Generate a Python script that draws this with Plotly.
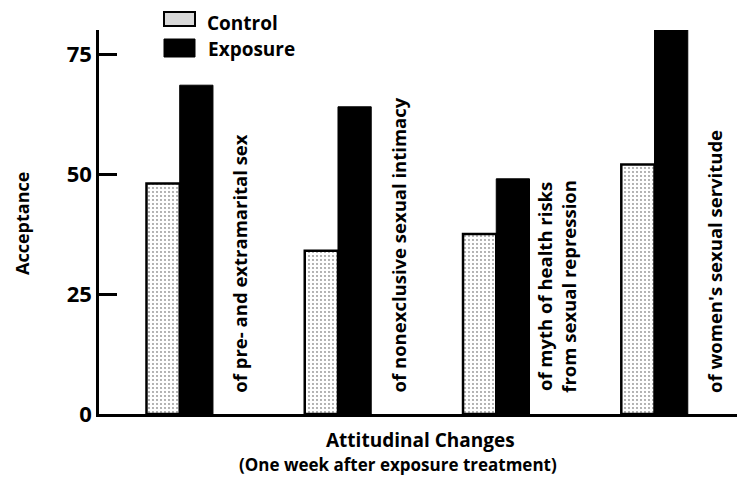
import plotly.graph_objects as go

# data
categories = ["of pre- and extramarital sex",
              "of nonexclusive sexual intimacy",
              "of myth of health risks<br>from sexual repression",
              "of women's sexual servitude"]
control = [48, 34, 37.5, 52]
exposure = [68.5, 64, 49, 80]
y_ticks = [0, 25, 50, 75]

FONT = "Open Sans"
pos = list(range(len(categories)))

# plot area in screen pixels: x 99..740, y 30..414 (page body adds 8px offset)
def px(x):
    return (x - 99) / 641


def py(y):
    return (414 - y) / 384


fig = go.Figure()

# Control bars, dotted
fig.add_trace(go.Bar(x=pos, y=control, name="Control",
                     marker=dict(color="white",
                                 line=dict(color="black", width=2.5),
                                 pattern=dict(shape=".", fgcolor="#222",
                                              bgcolor="white", size=4,
                                              solidity=0.16)),
                     offsetgroup="c", showlegend=False))
# Exposure bars, solid black
fig.add_trace(go.Bar(x=pos, y=exposure, name="Exposure",
                     marker=dict(color="black", line=dict(color="black", width=1)),
                     offsetgroup="e", showlegend=False))

# rotated group labels next to each pair of bars
for i, lab in enumerate(categories):
    fig.add_annotation(x=i + 0.38, y=4.0, xref="x", yref="y", text=lab,
                       textangle=-90, showarrow=False, yanchor="bottom",
                       xanchor="center", align="center",
                       font=dict(family=FONT, size=18.5, color="black", weight="bold"))

# legend drawn by hand so the swatches are wide like the original
fig.add_shape(type="rect", xref="paper", yref="paper",
              x0=px(164), x1=px(195), y0=py(26), y1=py(12),
              fillcolor="#d9d9d9", line=dict(color="black", width=2))
fig.add_shape(type="rect", xref="paper", yref="paper",
              x0=px(164), x1=px(195), y0=py(57), y1=py(39),
              fillcolor="black", line=dict(color="black", width=1))
fig.add_annotation(text="Control", x=px(206), y=py(8.5),
                   xref="paper", yref="paper", showarrow=False,
                   xanchor="left", yanchor="top", borderpad=0,
                   font=dict(family=FONT, size=19, color="black", weight="bold"))
fig.add_annotation(text="Exposure", x=px(206), y=py(49),
                   xref="paper", yref="paper", showarrow=False,
                   xanchor="left", yanchor="middle",
                   font=dict(family=FONT, size=19, color="black", weight="bold"))

# axis titles as annotations
fig.add_annotation(text="Attitudinal Changes", x=px(420), y=py(440),
                   xref="paper", yref="paper", showarrow=False,
                   xanchor="center", yanchor="middle",
                   font=dict(family=FONT, size=19, color="black", weight="bold"))
fig.add_annotation(text="(One week after exposure treatment)", x=px(398), y=py(464),
                   xref="paper", yref="paper", showarrow=False,
                   xanchor="center", yanchor="middle",
                   font=dict(family=FONT, size=17, color="black", weight="bold"))
fig.add_annotation(text="Acceptance", x=px(22), y=py(224),
                   xref="paper", yref="paper", showarrow=False, textangle=-90,
                   xanchor="center", yanchor="middle",
                   font=dict(family=FONT, size=18, color="black", weight="bold"))

fig.update_layout(
    width=737, height=471,
    margin=dict(l=91, r=5, t=22, b=65, autoexpand=False),
    paper_bgcolor="white", plot_bgcolor="white",
    barmode="group", bargap=0.58, bargroupgap=0,
    font=dict(family=FONT, color="black"),
    xaxis=dict(range=[-0.51, 3.54], showticklabels=False, ticks="",
               showgrid=False, zeroline=False, showline=True,
               linecolor="black", linewidth=2.5),
    yaxis=dict(range=[0, 80], tickvals=y_ticks, ticks="inside", ticklen=18,
               tickwidth=2.5, tickcolor="black", showgrid=False, zeroline=False,
               showline=True, linecolor="black", linewidth=2.5,
               tickfont=dict(family=FONT, size=22, color="black", weight="bold")),
)

fig.write_html("out.html")
